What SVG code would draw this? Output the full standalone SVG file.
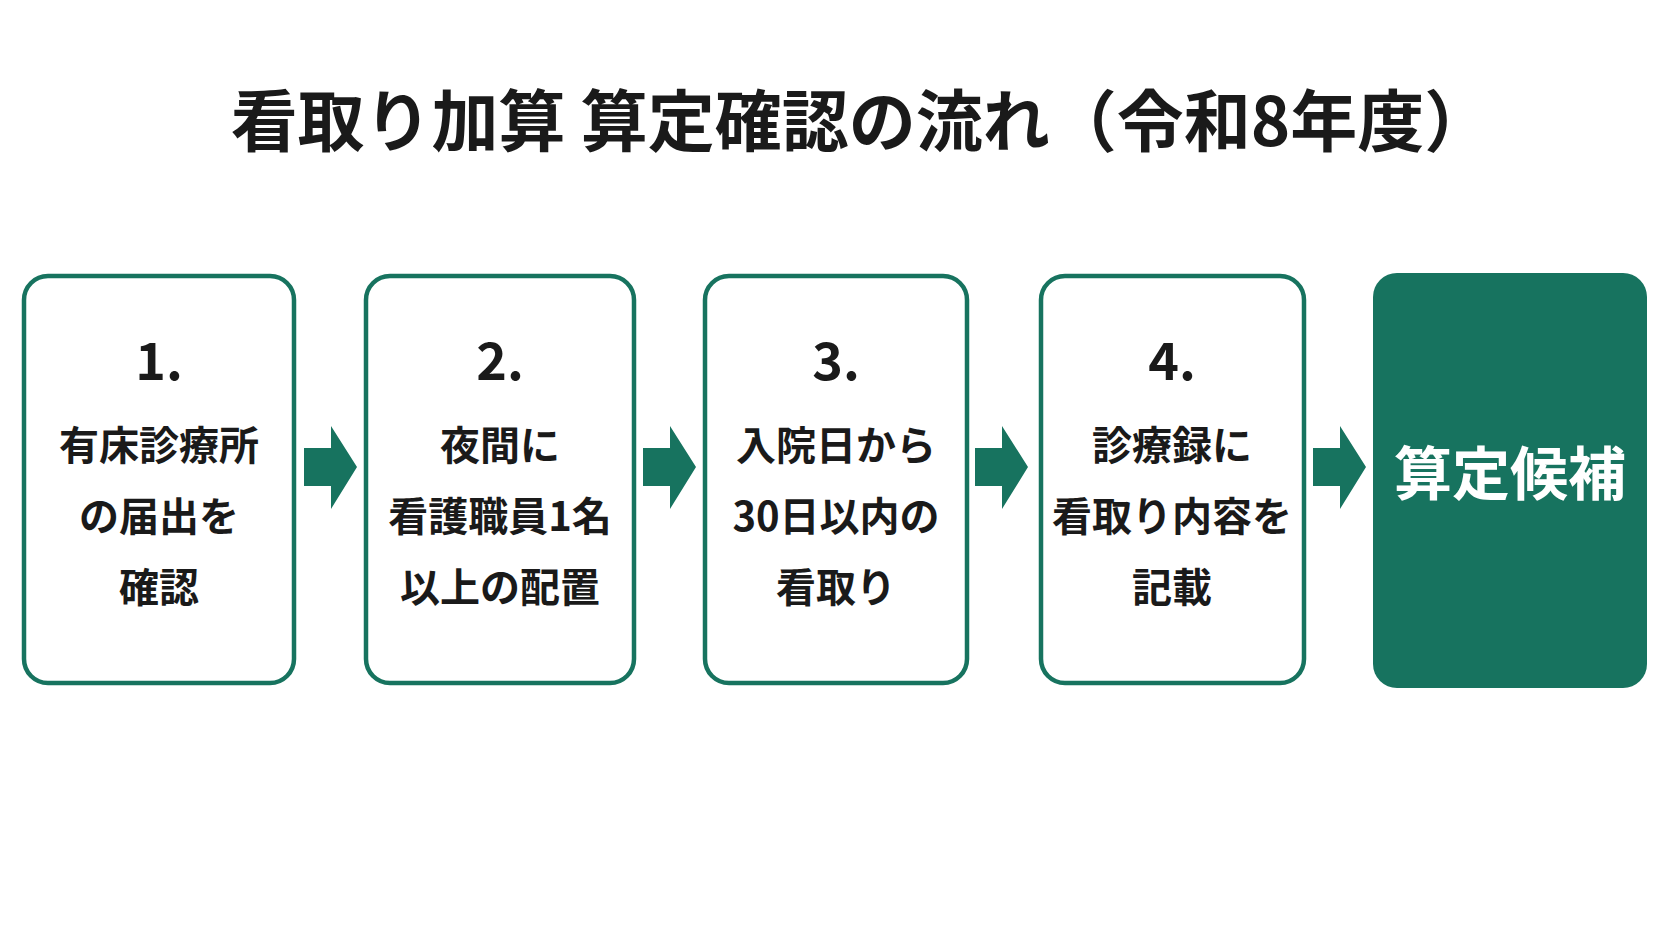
<svg xmlns="http://www.w3.org/2000/svg" width="1672" height="941" viewBox="0 0 1672 941">
<style>
text{font-family:"Noto Sans CJK JP","Noto Sans",sans-serif;font-weight:700;text-anchor:middle;fill:#1a1a1a}
.box{fill:#fff;stroke:#17735f;stroke-width:4.5}
.num{font-size:52px}
.t{font-size:40px}
.arrow{fill:#17735f}
</style>
<rect width="1672" height="941" fill="#fff"/>
<text x="861" y="146" font-size="67">看取り加算 算定確認の流れ（令和8年度）</text>
<g id="n1"><rect class="box" x="24" y="276" width="270" height="407" rx="24"/>
<text class="num" x="159" y="380">1.</text>
<text class="t" x="159" y="460">有床診療所</text><text class="t" x="159" y="531">の届出を</text><text class="t" x="159" y="602">確認</text></g>
<g id="n2"><rect class="box" x="366" y="276" width="268" height="407" rx="24"/>
<text class="num" x="500" y="380">2.</text>
<text class="t" x="500" y="460">夜間に</text><text class="t" x="500" y="531">看護職員1名</text><text class="t" x="500" y="602">以上の配置</text></g>
<g id="n3"><rect class="box" x="705" y="276" width="262" height="407" rx="24"/>
<text class="num" x="836" y="380">3.</text>
<text class="t" x="836" y="460">入院日から</text><text class="t" x="836" y="531">30日以内の</text><text class="t" x="836" y="602">看取り</text></g>
<g id="n4"><rect class="box" x="1041" y="276" width="263" height="407" rx="24"/>
<text class="num" x="1172" y="380">4.</text>
<text class="t" x="1172" y="460">診療録に</text><text class="t" x="1172" y="531">看取り内容を</text><text class="t" x="1172" y="602">記載</text></g>
<g id="n5"><rect x="1373" y="273" width="274" height="415" rx="24" fill="#17735f"/>
<text x="1510" y="495" font-size="58" style="fill:#fff">算定候補</text></g>
<g id="connectors">
<path class="arrow" d="M304 448H331V426L357 467L331 509V486H304Z"/>
<path class="arrow" d="M643 448H670V426L696 467L670 509V486H643Z"/>
<path class="arrow" d="M975 448H1002V426L1028 467L1002 509V486H975Z"/>
<path class="arrow" d="M1313 448H1340V426L1366 467L1340 509V486H1313Z"/>
</g>
</svg>
